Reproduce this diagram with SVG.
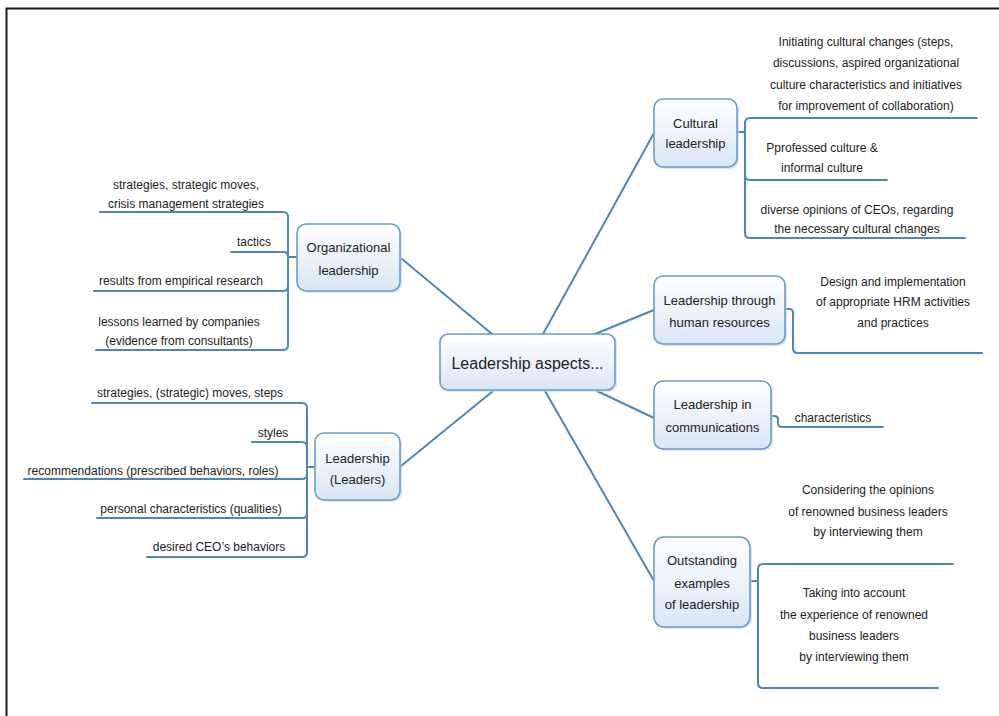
<svg xmlns="http://www.w3.org/2000/svg" width="999" height="716" viewBox="0 0 999 716">
<defs>
<linearGradient id="nodeFill" x1="0" y1="0" x2="0" y2="1">
<stop offset="0" stop-color="#ffffff"/>
<stop offset="1" stop-color="#d9e6f4"/>
</linearGradient>
</defs>
<style>
.frame{fill:none;stroke:#1a1a1a;stroke-width:2}
.conn path{fill:none;stroke:#4d87ba;stroke-width:2;stroke-linecap:round}
.box{fill:url(#nodeFill);stroke:#6a9ccc;stroke-width:1.6}
.shadow{fill:#c9d3de;opacity:0.6}
.nt{font-family:"Liberation Sans",Arial,sans-serif;font-size:13px;fill:#222;text-anchor:middle}
.ct{font-family:"Liberation Sans",Arial,sans-serif;font-size:16px;fill:#222;text-anchor:middle}
.lt{font-family:"Liberation Sans",Arial,sans-serif;font-size:12px;fill:#222;text-anchor:middle}
</style>
<rect width="999" height="716" fill="#ffffff"/>
<path class="frame" d="M6.5,716 V8.5 H999"/>

<g id="connectors" class="conn">
<path d="M402,259 L492,334"/>
<path d="M401,466 L493,391"/>
<path d="M543,334 L654,133"/>
<path d="M595,334 L654,310"/>
<path d="M597,391 L654,418"/>
<path d="M545,391 L654,581"/>
<path d="M297,257 H288"/>
<path d="M288,257 V217 Q288,212 283,212 H100"/>
<path d="M288,257 Q288,252 284,252 H231"/>
<path d="M288,257 V286 Q288,291 283,291 H94"/>
<path d="M288,257 V345 Q288,350 283,350 H96"/>
<path d="M315,467 H307"/>
<path d="M307,467 V408 Q307,403 302,403 H92"/>
<path d="M307,467 V447 Q307,442 302,442 H252"/>
<path d="M307,467 V474 Q307,479 302,479 H24"/>
<path d="M307,467 V513 Q307,518 302,518 H97"/>
<path d="M307,467 V552 Q307,557 302,557 H147"/>
<path d="M737,132 H745"/>
<path d="M745,132 V123 Q745,118 750,118 H977"/>
<path d="M745,132 V175 Q745,180 750,180 H887"/>
<path d="M745,132 V233 Q745,238 750,238 H965"/>
<path d="M785,309 H789 Q793,309 793,313 V348 Q793,353 798,353 H982"/>
<path d="M771,416 H774 Q778,416 778,420 V423 Q778,427 782,427 H883"/>
<path d="M750,581 H758"/>
<path d="M758,581 V569 Q758,564 763,564 H953"/>
<path d="M758,581 V683 Q758,688 763,688 H938"/>
</g>

<g id="node-center">
<rect class="shadow" x="442" y="336" width="175" height="56" rx="8"/>
<rect class="box" x="440" y="334" width="175" height="56" rx="8"/>
<text class="ct" x="527.5" y="368.5">Leadership aspects...</text>
</g>

<g id="node-organizational">
<rect class="shadow" x="299" y="226" width="103" height="67" rx="9"/>
<rect class="box" x="297" y="224" width="103" height="67" rx="9"/>
<text class="nt" x="348.5" y="251.5">Organizational</text>
<text class="nt" x="348.5" y="274.5">leadership</text>
</g>

<g id="node-leaders">
<rect class="shadow" x="317" y="435" width="85" height="67" rx="9"/>
<rect class="box" x="315" y="433" width="85" height="67" rx="9"/>
<text class="nt" x="357.5" y="463">Leadership</text>
<text class="nt" x="357.5" y="484">(Leaders)</text>
</g>

<g id="node-cultural">
<rect class="shadow" x="656" y="101" width="83" height="68" rx="9"/>
<rect class="box" x="654" y="99" width="83" height="68" rx="9"/>
<text class="nt" x="695.5" y="127.5">Cultural</text>
<text class="nt" x="695.5" y="148">leadership</text>
</g>

<g id="node-hr">
<rect class="shadow" x="656" y="278" width="131" height="68" rx="9"/>
<rect class="box" x="654" y="276" width="131" height="68" rx="9"/>
<text class="nt" x="719.5" y="304.5">Leadership through</text>
<text class="nt" x="719.5" y="326.5">human resources</text>
</g>

<g id="node-communications">
<rect class="shadow" x="656" y="383" width="117" height="68" rx="9"/>
<rect class="box" x="654" y="381" width="117" height="68" rx="9"/>
<text class="nt" x="712.5" y="408.5">Leadership in</text>
<text class="nt" x="712.5" y="431.5">communications</text>
</g>

<g id="node-outstanding">
<rect class="shadow" x="656" y="539" width="96" height="90" rx="10"/>
<rect class="box" x="654" y="537" width="96" height="90" rx="10"/>
<text class="nt" x="702" y="564.5">Outstanding</text>
<text class="nt" x="702" y="587.5">examples</text>
<text class="nt" x="702" y="608.5">of leadership</text>
</g>

<g id="leaf-org-strategies">
<text class="lt" x="186" y="189">strategies, strategic moves,</text>
<text class="lt" x="186" y="208">crisis management strategies</text>
</g>
<g id="leaf-org-tactics"><text class="lt" x="254" y="246">tactics</text></g>
<g id="leaf-org-results"><text class="lt" x="181" y="285">results from empirical research</text></g>
<g id="leaf-org-lessons">
<text class="lt" x="179" y="326">lessons learned by companies</text>
<text class="lt" x="179" y="345">(evidence from consultants)</text>
</g>

<g id="leaf-lead-strategies"><text class="lt" x="190" y="397">strategies, (strategic) moves, steps</text></g>
<g id="leaf-lead-styles"><text class="lt" x="273" y="437">styles</text></g>
<g id="leaf-lead-recommendations"><text class="lt" x="153" y="475">recommendations (prescribed behaviors, roles)</text></g>
<g id="leaf-lead-personal"><text class="lt" x="191" y="513">personal characteristics (qualities)</text></g>
<g id="leaf-lead-desired"><text class="lt" x="219" y="551">desired CEO’s behaviors</text></g>

<g id="leaf-cult-initiating">
<text class="lt" x="866" y="46">Initiating cultural changes (steps,</text>
<text class="lt" x="866" y="67">discussions, aspired organizational</text>
<text class="lt" x="866" y="89">culture characteristics and initiatives</text>
<text class="lt" x="866" y="110">for improvement of collaboration)</text>
</g>
<g id="leaf-cult-professed">
<text class="lt" x="822" y="152">Pprofessed culture &amp;</text>
<text class="lt" x="822" y="172">informal culture</text>
</g>
<g id="leaf-cult-diverse">
<text class="lt" x="857" y="214">diverse opinions of CEOs, regarding</text>
<text class="lt" x="857" y="233">the necessary cultural changes</text>
</g>

<g id="leaf-hr-design">
<text class="lt" x="893" y="286">Design and implementation</text>
<text class="lt" x="893" y="306">of appropriate HRM activities</text>
<text class="lt" x="893" y="327">and practices</text>
</g>

<g id="leaf-comm-characteristics"><text class="lt" x="833" y="422">characteristics</text></g>

<g id="leaf-out-considering">
<text class="lt" x="868" y="494">Considering the opinions</text>
<text class="lt" x="868" y="516">of renowned business leaders</text>
<text class="lt" x="868" y="536">by interviewing them</text>
</g>
<g id="leaf-out-taking">
<text class="lt" x="854" y="597">Taking into account</text>
<text class="lt" x="854" y="619">the experience of renowned</text>
<text class="lt" x="854" y="640">business leaders</text>
<text class="lt" x="854" y="661">by interviewing them</text>
</g>
</svg>
